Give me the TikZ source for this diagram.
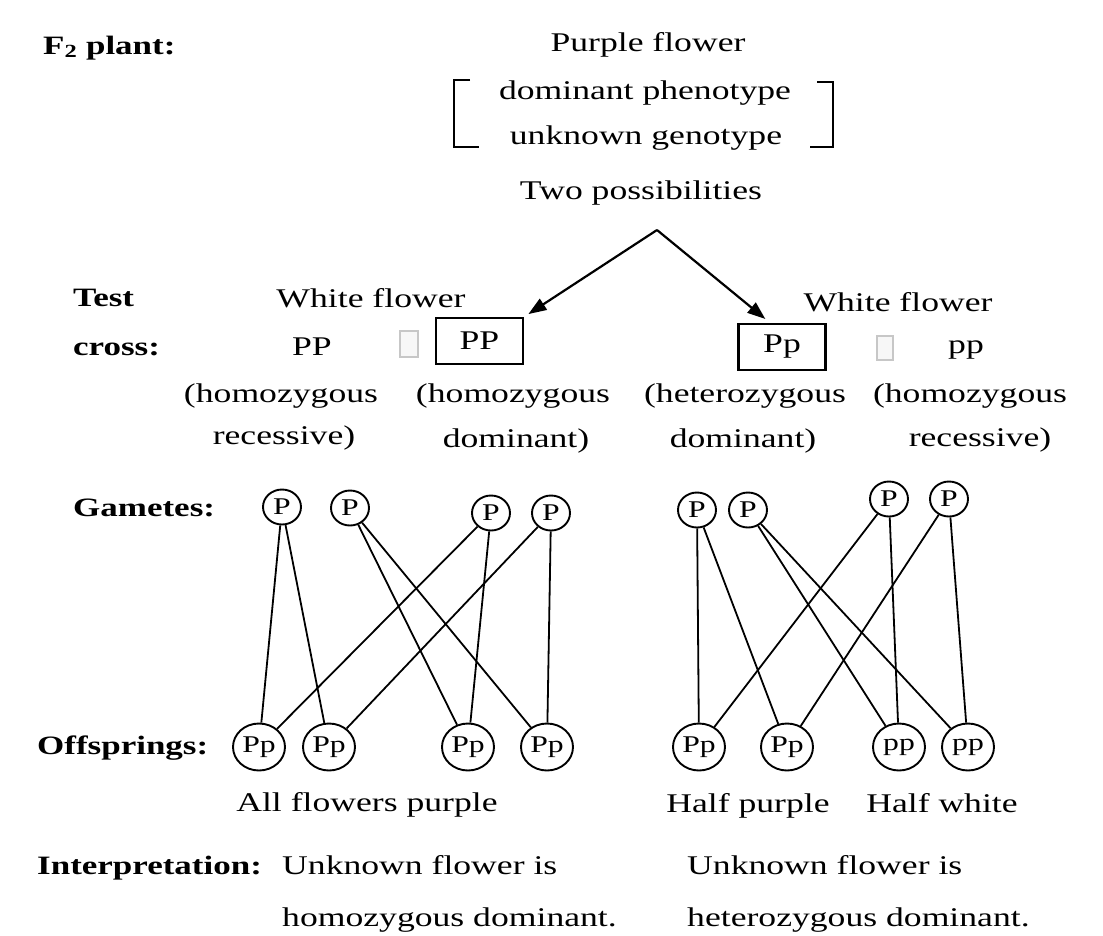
\documentclass[tikz,border=0pt]{standalone}
\usepackage{fontspec}
\setmainfont[FakeStretch=1.32]{Liberation Serif}
\usetikzlibrary{shapes.geometric,arrows.meta,calc}
\begin{document}
\begin{tikzpicture}[x=1pt,y=-1pt,
  lbl/.style={font=\fontsize{26.5}{30}\selectfont\bfseries, anchor=base west, inner sep=0pt},
  txt/.style={font=\fontsize{27}{32}\selectfont, anchor=base, inner sep=0pt},
  txtw/.style={font=\fontsize{27}{32}\selectfont, anchor=base west, inner sep=0pt},
  gam/.style={ellipse, draw, line width=1.9pt, minimum width=38pt, minimum height=35pt, inner sep=0pt, font=\fontsize{24}{24}\selectfont},
  off/.style={ellipse, draw, line width=1.9pt, minimum width=52pt, minimum height=47pt, inner sep=0pt, font=\fontsize{24}{24}\selectfont},
  genbox/.style={draw, line width=2.4pt, minimum width=87pt, minimum height=46pt, inner sep=0pt, font=\fontsize{27}{32}\selectfont},
  ghost/.style={draw=black!22, fill=black!3, line width=1.2pt, minimum width=18pt, minimum height=26pt, inner sep=0pt},
  link/.style={line width=1.8pt},
  arr/.style={line width=2.2pt, -{Triangle[length=18pt,width=13pt]}},
  brk/.style={line width=2.2pt}
]
\path[use as bounding box] (0,0) rectangle (1103,935);

% F2 plant
\node[lbl] (f2) at (43,54) {F\textsubscript{2} plant:};
\node[txt] (purple) at (648,51) {Purple flower};
\node[txt] (domph) at (645,99) {dominant phenotype};
\node[txt] (unkg) at (646,144) {unknown genotype};
\node[txt] (two) at (641,199) {Two possibilities};
\draw[brk] (470,80) -- (454,80) -- (454,147) -- (479,147);
\draw[brk] (817,82) -- (833,82) -- (833,147) -- (810,147);

% Test cross
\node[lbl] (test) at (73,306) {Test};
\node[lbl] (cross) at (73,355) {cross:};
\node[txt] (wfL) at (371,307) {White flower};
\node[txt] (wfR) at (898,311) {White flower};
\node[txt] (ppL) at (312,355) {PP};
\node[ghost] (xL) at (409,344) {};
\node[genbox] (boxL) at (479.5,341) {PP};
\node[genbox] (boxR) at (782,347) {Pp};
\node[ghost, minimum width=16pt, minimum height=24pt] (xR) at (885,348) {};
\node[txt] (ppR) at (966,353) {pp};

\coordinate (apex) at (657,230);
\draw[arr, shorten >=5pt] (apex) -- (boxL.north east);
\draw[arr, shorten >=6pt] (apex) -- ($(boxR.north)+(-12,0)$);

\node[txt] (d1a) at (281,402) {(homozygous};
\node[txt] (d1b) at (284,444) {recessive)};
\node[txt] (d2a) at (513,402) {(homozygous};
\node[txt] (d2b) at (516,447) {dominant)};
\node[txt] (d3a) at (745,402) {(heterozygous};
\node[txt] (d3b) at (743,447) {dominant)};
\node[txt] (d4a) at (970,402) {(homozygous};
\node[txt] (d4b) at (980,446) {recessive)};

% Gametes
\node[lbl] (gam) at (73,516) {Gametes:};
\node[gam] (g1) at (282,507) {P};
\node[gam] (g2) at (350,508) {P};
\node[gam] (g3) at (491,513) {P};
\node[gam] (g4) at (551,513) {P};
\node[gam] (g5) at (697,510) {P};
\node[gam] (g6) at (748,510) {P};
\node[gam] (g7) at (889,499) {P};
\node[gam] (g8) at (949,499) {P};

% Offsprings
\node[lbl] (offl) at (37,754) {Offsprings:};
\node[off] (o1) at (259,747) {Pp};
\node[off] (o2) at (329,747) {Pp};
\node[off] (o3) at (468,747) {Pp};
\node[off] (o4) at (547,747) {Pp};
\node[off] (o5) at (699,747) {Pp};
\node[off] (o6) at (787,747) {Pp};
\node[off] (o7) at (899,747) {pp};
\node[off] (o8) at (968,747) {pp};

% connectors
\draw[link] (g1) -- (o1);
\draw[link] (g1) -- (o2);
\draw[link] (g2) -- (o3);
\draw[link] (g2) -- (o4);
\draw[link] (g3) -- (o1);
\draw[link] (g3) -- (o3);
\draw[link] (g4) -- (o2);
\draw[link] (g4) -- (o4);
\draw[link] (g5) -- (o5);
\draw[link] (g5) -- (o6);
\draw[link] (g6) -- (o7);
\draw[link] (g6) -- (o8);
\draw[link] (g7) -- (o5);
\draw[link] (g7) -- (o7);
\draw[link] (g8) -- (o6);
\draw[link] (g8) -- (o8);

\node[txt] (allp) at (367,811) {All flowers purple};
\node[txt] (halfp) at (748,812) {Half purple};
\node[txt] (halfw) at (942,812) {Half white};

% Interpretation
\node[lbl] (interp) at (37,874) {Interpretation:};
\node[txtw] (i1a) at (282,874) {Unknown flower is};
\node[txtw] (i1b) at (282,926) {homozygous dominant.};
\node[txtw] (i2a) at (687,874) {Unknown flower is};
\node[txtw] (i2b) at (687,926) {heterozygous dominant.};
\end{tikzpicture}
\end{document}
